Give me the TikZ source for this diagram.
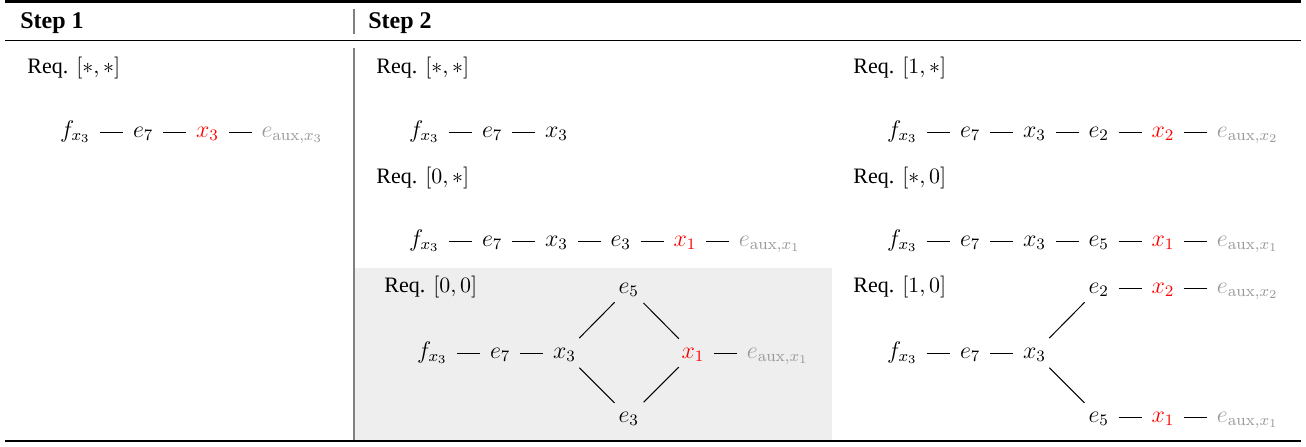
\documentclass[tikz,border=0pt]{standalone}
\usepackage[no-math]{fontspec}
\setmainfont{Liberation Serif}
\usetikzlibrary{positioning}
\definecolor{auxgray}{gray}{0.6}
\definecolor{sepgray}{gray}{0.5}
\definecolor{boxgray}{gray}{0.933}
\definecolor{hotred}{RGB}{255,0,0}
\tikzset{
  v/.style={inner sep=0pt, outer sep=0pt, font=\fontsize{12}{14}\selectfont,
            text height=7.5pt, text depth=2.5pt},
  vr/.style={v, text=hotred},
  va/.style={v, text=auxgray},
  link/.style={line width=0.5pt, shorten >=5pt, shorten <=5pt},
  diag/.style={line width=0.5pt, shorten >=10pt, shorten <=10.5pt},
  req/.style={anchor=base west, inner sep=0pt, font=\fontsize{11}{13}\selectfont},
  head/.style={anchor=base west, inner sep=0pt, font=\fontsize{12}{14}\selectfont\bfseries},
  rulethick/.style={line width=1.1pt},
  rulethin/.style={line width=0.6pt},
  sepline/.style={draw=sepgray, line width=0.6pt},
  node distance=21.3pt
}
\newcommand{\reqtext}[1]{Req.\hspace{4pt}$[#1]$}
\begin{document}
\begin{tikzpicture}[x=0.5pt,y=-0.5pt]
\useasboundingbox (0,0) rectangle (1306,446);
% background box
\fill[boxgray] (355,268) rectangle (832,440);
% rules
\draw[rulethick] (5,1.5) -- (1301,1.5);
\draw[rulethin] (5,40.5) -- (1301,40.5);
\draw[rulethick] (5,441) -- (1301,441);
\draw[sepline] (354,9) -- (354,34);
\draw[sepline] (354,48) -- (354,440);
% headers
\node[head] (h1) at (20,28) {Step 1};
\node[head] (h2) at (368,28) {Step 2};
% requirement labels
\node[req] (r1) at (27,73) {\reqtext{*,*}};
\node[req] (r2) at (376,73) {\reqtext{*,*}};
\node[req] (r3) at (376,183) {\reqtext{0,*}};
\node[req] (r4) at (384,292) {\reqtext{0,0}};
\node[req] (r5) at (853,73) {\reqtext{1,*}};
\node[req] (r6) at (853,183) {\reqtext{*,0}};
\node[req] (r7) at (853,292) {\reqtext{1,0}};
% Step 1 chain
\node[v, anchor=base west] (a1) at (60,137) {$f_{x_3}$};
\node[v, right=of a1] (a2) {$e_7$};
\node[vr, right=of a2] (a3) {$x_3$};
\node[va, right=of a3] (a4) {$e_{\mathrm{aux},x_3}$};
\draw[link] (a1) -- (a2);
\draw[link] (a2) -- (a3);
\draw[link] (a3) -- (a4);
% Step 2, [*,*]
\node[v, anchor=base west] (b1) at (409,137) {$f_{x_3}$};
\node[v, right=of b1] (b2) {$e_7$};
\node[v, right=of b2] (b3) {$x_3$};
\draw[link] (b1) -- (b2);
\draw[link] (b2) -- (b3);
% Step 2, [0,*]
\node[v, anchor=base west] (c1) at (409,246) {$f_{x_3}$};
\node[v, right=of c1] (c2) {$e_7$};
\node[v, right=of c2] (c3) {$x_3$};
\node[v, right=of c3] (c4) {$e_3$};
\node[vr, right=of c4] (c5) {$x_1$};
\node[va, right=of c5] (c6) {$e_{\mathrm{aux},x_1}$};
\draw[link] (c1) -- (c2);
\draw[link] (c2) -- (c3);
\draw[link] (c3) -- (c4);
\draw[link] (c4) -- (c5);
\draw[link] (c5) -- (c6);
% Step 2, [0,0] diamond
\node[v, anchor=base west] (d1) at (417,358) {$f_{x_3}$};
\node[v, right=of d1] (d2) {$e_7$};
\node[v, right=of d2] (d3) {$x_3$};
\node[v, right=of d3, yshift=32.5pt] (d4) {$e_5$};
\node[v, right=of d3, yshift=-32pt] (d5) {$e_3$};
\node[vr, right=of d4, yshift=-32.5pt] (d6) {$x_1$};
\node[va, right=of d6] (d7) {$e_{\mathrm{aux},x_1}$};
\draw[link] (d1) -- (d2);
\draw[link] (d2) -- (d3);
\draw[diag] (d3.center) -- (d4.center);
\draw[diag] (d3.center) -- (d5.center);
\draw[diag] (d4.center) -- (d6.center);
\draw[diag] (d5.center) -- (d6.center);
\draw[link] (d6) -- (d7);
% Step 2, [1,*]
\node[v, anchor=base west] (e1) at (887,137) {$f_{x_3}$};
\node[v, right=of e1] (e2) {$e_7$};
\node[v, right=of e2] (e3) {$x_3$};
\node[v, right=of e3] (e4) {$e_2$};
\node[vr, right=of e4] (e5) {$x_2$};
\node[va, right=of e5] (e6) {$e_{\mathrm{aux},x_2}$};
\draw[link] (e1) -- (e2);
\draw[link] (e2) -- (e3);
\draw[link] (e3) -- (e4);
\draw[link] (e4) -- (e5);
\draw[link] (e5) -- (e6);
% Step 2, [*,0]
\node[v, anchor=base west] (g1) at (887,246) {$f_{x_3}$};
\node[v, right=of g1] (g2) {$e_7$};
\node[v, right=of g2] (g3) {$x_3$};
\node[v, right=of g3] (g4) {$e_5$};
\node[vr, right=of g4] (g5) {$x_1$};
\node[va, right=of g5] (g6) {$e_{\mathrm{aux},x_1}$};
\draw[link] (g1) -- (g2);
\draw[link] (g2) -- (g3);
\draw[link] (g3) -- (g4);
\draw[link] (g4) -- (g5);
\draw[link] (g5) -- (g6);
% Step 2, [1,0] tree
\node[v, anchor=base west] (t1) at (887,358) {$f_{x_3}$};
\node[v, right=of t1] (t2) {$e_7$};
\node[v, right=of t2] (t3) {$x_3$};
\node[v, right=of t3, yshift=32.5pt] (t4) {$e_2$};
\node[vr, right=of t4] (t5) {$x_2$};
\node[va, right=of t5] (t6) {$e_{\mathrm{aux},x_2}$};
\node[v, right=of t3, yshift=-32pt] (t7) {$e_5$};
\node[vr, right=of t7] (t8) {$x_1$};
\node[va, right=of t8] (t9) {$e_{\mathrm{aux},x_1}$};
\draw[link] (t1) -- (t2);
\draw[link] (t2) -- (t3);
\draw[diag] (t3.center) -- (t4.center);
\draw[diag] (t3.center) -- (t7.center);
\draw[link] (t4) -- (t5);
\draw[link] (t5) -- (t6);
\draw[link] (t7) -- (t8);
\draw[link] (t8) -- (t9);
\end{tikzpicture}
\end{document}
